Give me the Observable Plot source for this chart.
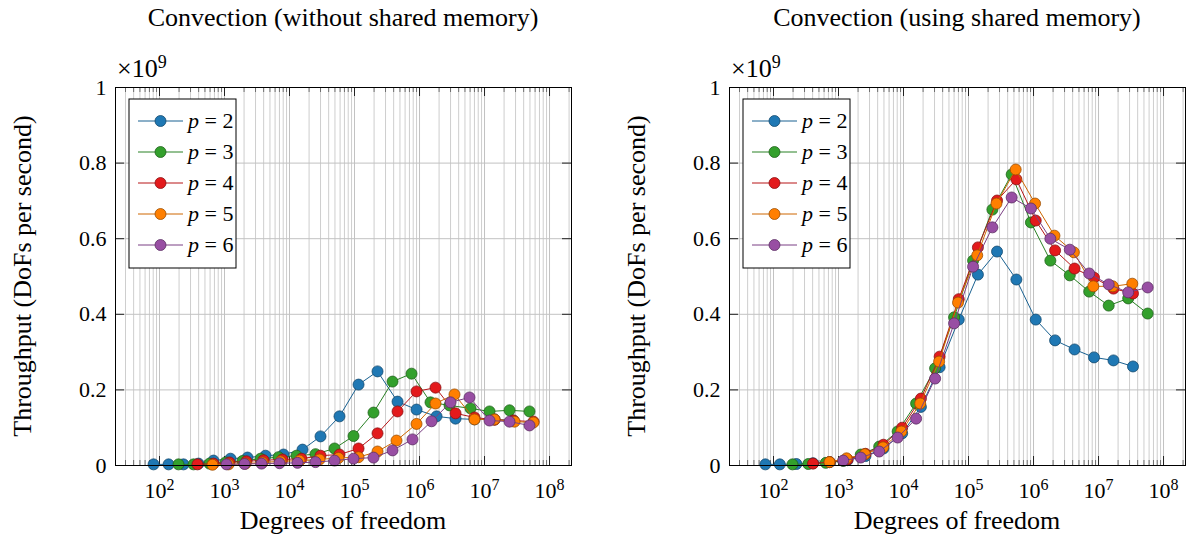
<!DOCTYPE html>
<html><head><meta charset="utf-8">
<script src="https://cdn.jsdelivr.net/npm/d3@7"></script>
<script src="https://cdn.jsdelivr.net/npm/@observablehq/plot@0.6"></script>
<style>
body{margin:0;background:#fff}
#wrap{position:relative;width:1191px;height:535px;overflow:hidden;background:#fff}
.panel{position:absolute;top:0}
.panel text{font-family:"Liberation Serif",serif}
</style></head>
<body><div id="wrap"></div>
<script>
// ---------- data ----------
const seriesP = [2, 3, 4, 5, 6];
const colors = ["#1f78b4", "#33a02c", "#e31a1c", "#ff7f00", "#984ea3"];
const titles = ["Convection (without shared memory)", "Convection (using shared memory)"];
const xLabel = "Degrees of freedom";
const yLabel = "Throughput (DoFs per second)";
const yTicks = [0, 0.2, 0.4, 0.6, 0.8, 1];
const yTickLabels = ["0", "0.2", "0.4", "0.6", "0.8", "1"];
const xTickExps = [2, 3, 4, 5, 6, 7, 8];
const yScaleLabel = "9";

// left panel (without shared memory): degrees of freedom
const leftDofsP2 = [81,138,234,398,677,1236,2259,4274,8091,15849,29985,58749,115300,225900,459200,899500,1828000,3581000,7015000,14250000,27920000];
const leftDofsP3 = [196,334,588,1036,1892,3581,6774,12810,25120,49230,96550,195900,384400,753400,1476000,2896000,6095000,11940000,24250000,49230000];
const leftDofsP4 = [384,677,1194,2178,3981,7798,15310,29985,58750,115300,225900,459200,899500,1762000,3581000,7015000,14250000,27920000,56750000];
const leftDofsP5 = [653,1153,2104,3846,7278,14260,28970,56750,115300,225900,442600,899500,1762000,3451000,7015000,14250000,28970000,56750000];
const leftDofsP6 = [1074,2031,3708,7015,13280,25120,49230,96550,195900,384400,779600,1531000,3000000,5875000,11940000,24250000,49230000];
// left panel: throughput (x 1e9)
const leftP2 = [0.003,0.003,0.003,0.005,0.013,0.018,0.021,0.026,0.029,0.042,0.077,0.13,0.214,0.249,0.169,0.148,0.130,0.124,0.122,0.122,0.119];
const leftP3 = [0.003,0.003,0.005,0.008,0.012,0.018,0.022,0.026,0.030,0.045,0.078,0.14,0.222,0.243,0.167,0.159,0.151,0.143,0.146,0.143];
const leftP4 = [0.003,0.005,0.008,0.011,0.014,0.016,0.018,0.026,0.029,0.045,0.085,0.143,0.196,0.206,0.138,0.127,0.121,0.119,0.116];
const leftP5 = [0.002,0.003,0.005,0.008,0.011,0.013,0.016,0.020,0.022,0.037,0.066,0.11,0.164,0.188,0.122,0.122,0.116,0.114];
const leftP6 = [0.003,0.004,0.005,0.006,0.007,0.009,0.013,0.018,0.021,0.040,0.069,0.117,0.167,0.180,0.119,0.116,0.106];

// right panel (using shared memory): degrees of freedom
const rightDofsP2 = [75,125,225,405,729,1377,2601,4913,9537,18513,35937,70785,139425,274625,545025,1081665,2146689,4276737,8520321,16974593,33883137];
const rightDofsP3 = [196,343,637,1183,2197,4225,8125,15625,30625,60025,117649,232897,461041,912673,1815937,3613153,7189057,14340865,28607425,57066625];
const rightDofsP4 = [405,729,1377,2601,4913,9537,18513,35937,70785,139425,274625,545025,1081665,2146689,4276737,8520321,16974593,33883137];
const rightDofsP5 = [726,1331,2541,4851,9261,18081,35301,68921,136161,269001,531441,1056321,2099601,4173281,8320641,16589601,33076161];
const rightDofsP6 = [1183,2197,4225,8125,15625,30625,60025,117649,232897,461041,912673,1815937,3613153,7189057,14340865,28607425,57066625];
// right panel: throughput (x 1e9)
const rightP2 = [0.003,0.003,0.004,0.006,0.009,0.014,0.025,0.045,0.085,0.155,0.26,0.386,0.505,0.566,0.492,0.386,0.331,0.307,0.286,0.278,0.262];
const rightP3 = [0.003,0.004,0.007,0.012,0.029,0.05,0.09,0.164,0.257,0.392,0.542,0.677,0.770,0.643,0.542,0.503,0.460,0.423,0.442,0.402];
const rightP4 = [0.005,0.009,0.016,0.031,0.055,0.10,0.177,0.288,0.44,0.577,0.701,0.757,0.648,0.569,0.521,0.497,0.468,0.455];
const rightP5 = [0.009,0.019,0.03,0.048,0.09,0.164,0.275,0.431,0.556,0.693,0.783,0.693,0.608,0.564,0.474,0.474,0.481];
const rightP6 = [0.013,0.021,0.037,0.074,0.124,0.23,0.376,0.526,0.630,0.709,0.680,0.600,0.571,0.508,0.479,0.458,0.471];

const leftDofs = [leftDofsP2, leftDofsP3, leftDofsP4, leftDofsP5, leftDofsP6];
const rightDofs = [rightDofsP2, rightDofsP3, rightDofsP4, rightDofsP5, rightDofsP6];
const leftVals = [leftP2, leftP3, leftP4, leftP5, leftP6];
const rightVals = [rightP2, rightP3, rightP4, rightP5, rightP6];

// ---------- layout ----------
const W = 595, H = 535, innerW = 456, innerH = 378, mT = 87, mB = 70;
const xDomain = [21.04, 2.178e8];
const FONT = "Liberation Serif, Times New Roman, serif";
const majorX = xTickExps.map(e => Math.pow(10, e));
const minorX = [];
for (let e = 1; e <= 8; e++) for (let k = 2; k <= 9; k++) {
  const v = k * Math.pow(10, e);
  if (v > xDomain[0] && v < xDomain[1]) minorX.push(v);
}

function makePanel(mL, title, dofs, values) {
  const mR = W - mL - innerW;
  const marks = [
    Plot.ruleX(minorX, {stroke: "#c8c8c8", strokeWidth: 0.9}),
    Plot.ruleX(majorX, {stroke: "#c2c2c2", strokeWidth: 1}),
    Plot.ruleY(yTicks.slice(1, -1), {stroke: "#c2c2c2", strokeWidth: 1}),
    Plot.ruleX(minorX, {insetTop: innerH - 5, stroke: "#555", strokeWidth: 0.8}),
    Plot.ruleX(minorX, {insetBottom: innerH - 5, stroke: "#555", strokeWidth: 0.8}),
    Plot.ruleX(majorX, {insetTop: innerH - 9, stroke: "#222", strokeWidth: 1}),
    Plot.ruleX(majorX, {insetBottom: innerH - 9, stroke: "#222", strokeWidth: 1}),
    Plot.ruleY(yTicks, {insetRight: innerW - 9, stroke: "#222", strokeWidth: 1}),
    Plot.ruleY(yTicks, {insetLeft: innerW - 9, stroke: "#222", strokeWidth: 1})
  ];
  seriesP.forEach((p, i) => {
    const data = values[i].map((v, j) => ({p, dof: dofs[i][j], v}));
    const c = d3.color(colors[i]);
    marks.push(Plot.line(data, {x: "dof", y: "v", stroke: c.darker(0.6).formatHex(), strokeWidth: 1}));
    marks.push(Plot.dot(data, {x: "dof", y: "v", r: 5.5, fill: colors[i], stroke: c.darker(1.4).formatHex(), strokeWidth: 0.8}));
  });
  marks.push(Plot.frame({stroke: "#000", strokeWidth: 1}));

  const svg = Plot.plot({
    width: W, height: H,
    marginLeft: mL, marginRight: mR, marginTop: mT, marginBottom: mB,
    style: {fontFamily: FONT, fontSize: "22px", color: "#000", background: "#fff", overflow: "visible"},
    x: {type: "log", domain: xDomain, ticks: majorX, tickFormat: d => "10^" + Math.round(Math.log10(d)), tickSize: 0, tickPadding: 17, label: null},
    y: {domain: [0, 1], ticks: yTicks, tickFormat: d => yTickLabels[yTicks.indexOf(d)] ?? "", tickSize: 0, tickPadding: 9, label: null},
    marks
  });

  const s = d3.select(svg);
  s.selectAll("text").each(function () {
    const m = /^10\^(\d+)$/.exec(this.textContent);
    if (m) {
      const el = d3.select(this);
      el.text(null);
      el.append("tspan").text("10");
      el.append("tspan").attr("dy", "-0.5em").attr("font-size", "16px").text(m[1]);
    }
  });
  const g = s.append("g").attr("fill", "#000");
  g.append("text").attr("x", mL + innerW / 2).attr("y", 26).attr("text-anchor", "middle")
    .attr("font-size", 26).text(title);
  const sc = g.append("text").attr("x", mL + 2).attr("y", 77).attr("font-size", 26).attr("text-anchor", "start");
  sc.append("tspan").text("×10");
  sc.append("tspan").attr("dy", "-0.5em").attr("font-size", "18px").text(yScaleLabel);
  g.append("text").attr("transform", `translate(${mL - 93},${mT + innerH / 2}) rotate(-90)`)
    .attr("text-anchor", "middle").attr("dy", "0.35em").attr("font-size", 26).text(yLabel);
  g.append("text").attr("x", mL + innerW / 2).attr("y", 529).attr("text-anchor", "middle")
    .attr("font-size", 26).text(xLabel);

  // legend
  const lx = mL + 14, ly = 99;
  const lg = s.append("g");
  lg.append("rect").attr("x", lx).attr("y", ly).attr("width", 107).attr("height", 169)
    .attr("fill", "#fff").attr("stroke", "#000").attr("stroke-width", 1);
  seriesP.forEach((p, i) => {
    const y = 121 + 31 * i;
    const c = d3.color(colors[i]);
    lg.append("line").attr("x1", lx + 9).attr("x2", lx + 54).attr("y1", y).attr("y2", y)
      .attr("stroke", c.darker(0.6).formatHex()).attr("stroke-width", 1);
    lg.append("circle").attr("cx", lx + 31.5).attr("cy", y).attr("r", 5.5)
      .attr("fill", colors[i]).attr("stroke", c.darker(1.4).formatHex()).attr("stroke-width", 0.8);
    const t = lg.append("text").attr("x", lx + 59).attr("y", y + 7).attr("font-size", 22)
      .attr("text-anchor", "start").attr("fill", "#000");
    t.append("tspan").attr("font-style", "italic").text("p");
    t.append("tspan").text(" = " + p);
  });
  s.selectAll("text").style("font-family", FONT);
  return svg;
}

const wrap = document.getElementById("wrap");
const left = makePanel(115, titles[0], leftDofs, leftVals);
left.classList.add("panel"); left.style.left = "0px";
wrap.appendChild(left);
const right = makePanel(133, titles[1], rightDofs, rightVals);
right.classList.add("panel"); right.style.left = "596px";
wrap.appendChild(right);
</script>
</body></html>
